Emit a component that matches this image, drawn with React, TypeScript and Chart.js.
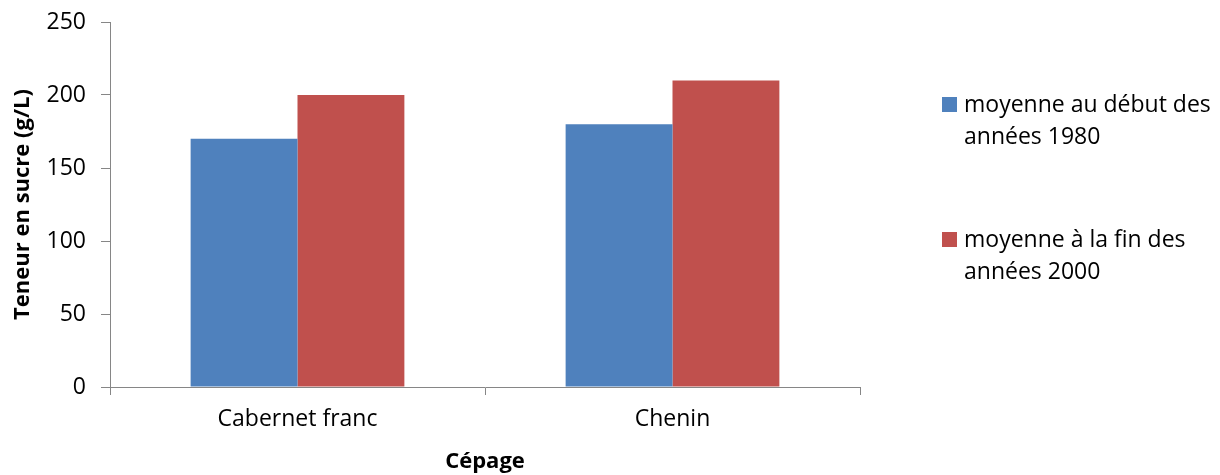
import React, { useEffect, useRef } from "react";
import { Chart, registerables } from "chart.js";

Chart.register(...registerables);

const categories = ["Cabernet franc", "Chenin"];
const seriesLabels = [
  ["moyenne au début des", "années 1980"],
  ["moyenne à la fin des", "années 2000"],
];
const early1980 = [170, 180];
const late2000 = [200, 210];
const seriesColors = ["#4F81BD", "#C0504D"];
const yTitle = "Teneur en sucre (g/L)";
const xTitle = "Cépage";

const FONT = "'Open Sans', sans-serif";

const legendPlugin = {
  id: "sideLegend",
  afterDraw(chart: any) {
    const ctx = chart.ctx;
    const area = chart.chartArea;
    const x0 = area.right + 82;
    const tops = [97, 232];
    ctx.save();
    ctx.font = `23px ${FONT}`;
    ctx.textBaseline = "middle";
    ctx.textAlign = "left";
    chart.data.datasets.forEach((ds: any, i: number) => {
      const top = tops[i];
      ctx.fillStyle = ds.backgroundColor;
      ctx.fillRect(x0, top, 15, 15);
      ctx.fillStyle = "#000000";
      const lines: string[] = seriesLabels[i];
      lines.forEach((line, j) => {
        ctx.fillText(line, x0 + 22, top + 8 + j * 32);
      });
    });
    ctx.restore();
  },
};

export default function App() {
  const ref = useRef<HTMLCanvasElement | null>(null);
  useEffect(() => {
    if (!ref.current) return;
    const chart = new Chart(ref.current, {
      type: "bar",
      data: {
        labels: categories,
        datasets: [
          {
            label: seriesLabels[0].join(" "),
            data: early1980,
            backgroundColor: seriesColors[0],
            borderWidth: 0,
            categoryPercentage: 0.57,
            barPercentage: 1.0,
          },
          {
            label: seriesLabels[1].join(" "),
            data: late2000,
            backgroundColor: seriesColors[1],
            borderWidth: 0,
            categoryPercentage: 0.57,
            barPercentage: 1.0,
          },
        ],
      },
      options: {
        responsive: false,
        animation: false,
        layout: { padding: { left: 0, top: 22, right: 360, bottom: 0 } },
        plugins: {
          legend: { display: false },
          tooltip: { enabled: false },
        },
        scales: {
          x: {
            grid: {
              offset: true,
              drawOnChartArea: false,
              drawTicks: true,
              tickLength: 8,
              color: "#868686",
            },
            border: { color: "#868686", width: 1 },
            ticks: {
              color: "#000000",
              font: { family: FONT, size: 23 },
              padding: 11,
              maxRotation: 0,
            },
            title: {
              display: true,
              text: xTitle,
              color: "#000000",
              font: { family: FONT, size: 22, weight: "bold" },
              padding: { top: 0, bottom: 0 },
            },
            afterFit(scale: any) {
              scale.height = 88;
              scale.paddingLeft = 0;
              scale.paddingRight = 0;
            },
          },
          y: {
            min: 0,
            max: 250,
            ticks: {
              stepSize: 50,
              color: "#000000",
              font: { family: FONT, size: 23 },
              padding: 15,
            },
            grid: {
              drawOnChartArea: false,
              drawTicks: true,
              tickLength: 9,
              color: "#868686",
            },
            border: { color: "#868686", width: 1 },
            title: {
              display: true,
              text: yTitle,
              color: "#000000",
              font: { family: FONT, size: 22, weight: "bold" },
              padding: { top: 10, bottom: 0 },
            },
            afterFit(scale: any) {
              scale.width = 110;
              scale.paddingTop = 0;
              scale.paddingBottom = 0;
            },
          },
        },
      },
      plugins: [legendPlugin],
    } as any);
    return () => chart.destroy();
  }, []);
  return (
    <div style={{ position: "absolute", left: 0, top: 0, width: 1220, height: 475, background: "#ffffff" }}>
      <canvas ref={ref} width={1220} height={475} style={{ display: "block" }} />
    </div>
  );
}
